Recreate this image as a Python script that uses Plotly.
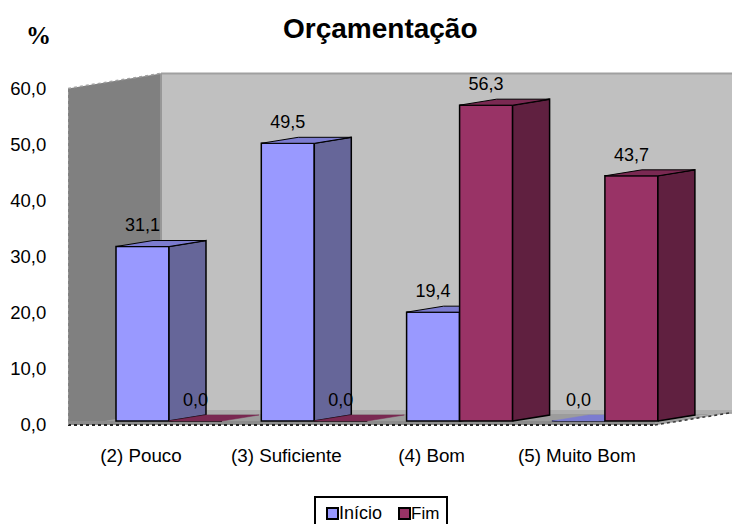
import plotly.graph_objects as go

CATEGORIES = ["(2) Pouco", "(3) Suficiente", "(4) Bom", "(5) Muito Bom"]
INICIO = [31.1, 49.5, 19.4, 0.0]
FIM = [0.0, 0.0, 56.3, 43.7]
TICKS = [0, 10, 20, 30, 40, 50, 60]
SERIES_NAMES = ["Início", "Fim"]

W, H = 732, 524
L, R, T, B = 68, 732, 60, 437          # plot area in page pixels
PITCH = 145.3                          # px per category
UNIT = 5.61                            # px per percentage point
X0_PX, Y0_PX = 169, 421                # first category centre, zero line of the bar plane

X_RANGE = [(L - X0_PX) / PITCH, (R - X0_PX) / PITCH]
Y_RANGE = [(Y0_PX - B) / UNIT, (Y0_PX - T) / UNIT]

BAR_W = 53 / PITCH
DEPTH_X = 37 / PITCH
DEPTH_Y = 6 / UNIT
FRONT_DROP = 4 / UNIT                  # axis plane sits just in front of the bars
LABEL_LIFT = 1.9
CAT_SHIFT = 28 / PITCH

WALL_FX, WALL_BX = X_RANGE[0], (161 - X0_PX) / PITCH
WALL_BOT_F, WALL_BOT_B = -FRONT_DROP, (Y0_PX - 410) / UNIT
WALL_H = 60
FLOOR_FX, FLOOR_BX = (655 - X0_PX) / PITCH, (748 - X0_PX) / PITCH
FLOOR_LEFT = (105 - X0_PX) / PITCH


def fmt(v):
    return f"{v:.1f}".replace(".", ",")


def px(x):
    return (x - L) / (R - L)


def py(y):
    return (B - y) / (B - T)


def poly(points):
    return "M " + " L ".join(f"{x},{y}" for x, y in points) + " Z"


def wall_shape(points, fill):
    return dict(type="path", xref="x", yref="y", layer="below", path=poly(points),
                fillcolor=fill, line=dict(color="rgba(0,0,0,0)", width=0))


def edge(x0, x1, y0, y1, colour, width, dash="solid"):
    return dict(type="line", xref="x", yref="y", layer="below", x0=x0, x1=x1, y0=y0, y1=y1,
                line=dict(color=colour, width=width, dash=dash))


def faces(values, offset):
    """Side and top polygons of each bar, projected from its value."""
    side_x, side_y, top_x, top_y, flat_x, flat_y = [], [], [], [], [], []
    for i, v in enumerate(values):
        x0, x1 = i + offset, i + offset + BAR_W
        tx = [x0, x1, x1 + DEPTH_X, x0 + DEPTH_X, x0, None]
        ty = [v, v, v + DEPTH_Y, v + DEPTH_Y, v, None]
        if v > 0:
            side_x += [x1, x1 + DEPTH_X, x1 + DEPTH_X, x1, x1, None]
            side_y += [0, DEPTH_Y, v + DEPTH_Y, v, 0, None]
            top_x += tx
            top_y += ty
        else:
            flat_x += tx
            flat_y += ty
    return side_x, side_y, top_x, top_y, flat_x, flat_y


def add_series(fig, values, offset, front, side, top, xa, ya):
    centres = [i + offset + BAR_W / 2 for i in range(len(values))]
    fig.add_trace(go.Bar(x=centres, y=values, width=BAR_W, xaxis=xa, yaxis=ya,
                         marker=dict(color=front, line=dict(color="black", width=1.5)),
                         showlegend=False, hoverinfo="skip"))
    sx, sy, tx, ty, fx, fy = faces(values, offset)
    common = dict(mode="lines", fill="toself", xaxis=xa, yaxis=ya,
                  showlegend=False, hoverinfo="skip")
    fig.add_trace(go.Scatter(x=sx, y=sy, fillcolor=side,
                             line=dict(color="black", width=1.5), **common))
    fig.add_trace(go.Scatter(x=tx, y=ty, fillcolor=top,
                             line=dict(color="black", width=1), **common))
    fig.add_trace(go.Scatter(x=fx, y=fy, fillcolor=top,
                             line=dict(color=top, width=0.5), **common))
    return centres


fig = go.Figure()
c_ini = add_series(fig, INICIO, -BAR_W, "#9999FF", "#666699", "#7C7CD0", "x", "y")
c_fim = add_series(fig, FIM, 0, "#993366", "#602040", "#7A2952", "x2", "y2")

# value labels sit in the top layer so no bar covers them
fig.add_trace(go.Scatter(
    x=c_ini + c_fim,
    y=[v + LABEL_LIFT for v in INICIO + FIM],
    text=[fmt(v) for v in INICIO + FIM],
    mode="text", textposition="top center",
    textfont=dict(family="Liberation Sans", size=18, color="black"),
    xaxis="x2", yaxis="y2", showlegend=False, hoverinfo="skip", cliponaxis=False))

# room walls and floor
top_b = WALL_BOT_B + WALL_H
top_f = WALL_BOT_F + WALL_H
shapes = [
    wall_shape([(WALL_BX, WALL_BOT_B), (WALL_BX, top_b),
                (X_RANGE[1] + 0.1, top_b), (X_RANGE[1] + 0.1, WALL_BOT_B)], "#C0C0C0"),
    wall_shape([(WALL_FX, WALL_BOT_F), (WALL_FX, top_f),
                (WALL_BX, top_b), (WALL_BX, WALL_BOT_F)], "#808080"),
    wall_shape([(FLOOR_LEFT, 0), (WALL_BX, WALL_BOT_B),
                (FLOOR_BX, WALL_BOT_B), (FLOOR_FX, 0)], "#9C9C9C"),
    wall_shape([(WALL_BX, WALL_BOT_B), (FLOOR_BX, WALL_BOT_B),
                (FLOOR_BX, WALL_BOT_B - 0.7), (WALL_BX, WALL_BOT_B - 0.7)], "#ADADAD"),
    wall_shape([(WALL_FX, WALL_BOT_F), (FLOOR_FX, WALL_BOT_F),
                (FLOOR_FX + 0.17, 0), (WALL_FX, 0)], "#8C8C8C"),
    wall_shape([(FLOOR_FX, WALL_BOT_F), (FLOOR_BX, WALL_BOT_B), (FLOOR_FX, 0)], "#9C9C9C"),
    edge(WALL_BX, X_RANGE[1], top_b, top_b, "#A0A0A0", 2),
    edge(WALL_BX, WALL_BX, WALL_BOT_B, top_b, "#989898", 2),
    edge(WALL_FX, FLOOR_FX, WALL_BOT_F, WALL_BOT_F, "#222222", 2, "dot"),
    edge(FLOOR_FX, FLOOR_BX, WALL_BOT_F, WALL_BOT_B, "#333333", 1.5, "dot"),
    edge(WALL_FX, WALL_FX, WALL_BOT_F, top_f, "#A0A0A0", 1.5, "dot"),
    edge(WALL_FX, WALL_BX, top_f, top_b, "#A0A0A0", 1.5, "dot"),
]

# legend box, running off the bottom of the page
paper = dict(type="rect", xref="paper", yref="paper")
shapes.append(dict(paper, x0=px(315), x1=px(447), y0=py(530), y1=py(497),
                   fillcolor="white", line=dict(color="black", width=2)))
for a, b, colour in [(327, 338, "#9999FF"), (399, 410, "#993366")]:
    shapes.append(dict(paper, x0=px(a), x1=px(b), y0=py(519), y1=py(508),
                       fillcolor=colour, line=dict(color="black", width=2)))


def note(text, x, y, family, size, xanchor="center"):
    return dict(text=text, x=px(x), y=py(y), xref="paper", yref="paper",
                xanchor=xanchor, yanchor="middle", showarrow=False,
                font=dict(family=family, size=size, color="black"))


annotations = [
    note("<b>Orçamentação</b>", 380, 29, "Liberation Sans", 28),
    note("<b>%</b>", 38, 35, "Liberation Serif", 25),
    note(SERIES_NAMES[0], 337, 513, "Liberation Sans", 18, "left"),
    note(SERIES_NAMES[1], 409, 513, "Liberation Sans", 17, "left"),
]

hidden = dict(visible=False, showgrid=False, zeroline=False)
fig.update_layout(
    width=W, height=H, autosize=False,
    margin=dict(l=L, r=W - R, t=T, b=H - B, pad=0),
    paper_bgcolor="white", plot_bgcolor="white",
    barmode="overlay", showlegend=False,
    shapes=shapes, annotations=annotations,
    xaxis=dict(range=X_RANGE, showgrid=False, zeroline=False, showline=False,
               tickmode="array", tickvals=[i - CAT_SHIFT for i in range(len(CATEGORIES))],
               ticktext=CATEGORIES, ticks="outside", ticklen=1, tickcolor="rgba(0,0,0,0)",
               tickfont=dict(family="Liberation Sans", size=18.8, color="black")),
    yaxis=dict(range=Y_RANGE, showgrid=False, zeroline=False, showline=False,
               tickmode="array", tickvals=[t - FRONT_DROP for t in TICKS],
               ticktext=[fmt(t) for t in TICKS], ticks="outside", ticklen=17,
               tickcolor="rgba(0,0,0,0)",
               tickfont=dict(family="Liberation Sans", size=18.5, color="black")),
    xaxis2=dict(range=X_RANGE, overlaying="x", anchor="y2", **hidden),
    yaxis2=dict(range=Y_RANGE, overlaying="y", anchor="x2", **hidden),
)

fig.write_html("out.html", config=dict(displayModeBar=False))
